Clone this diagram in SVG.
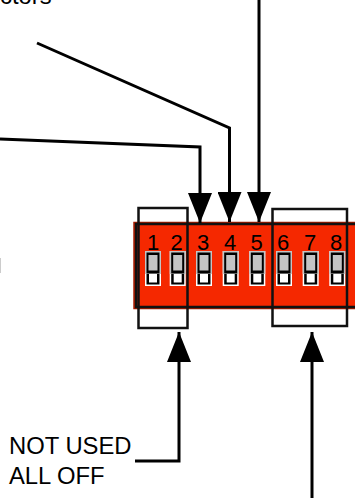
<svg xmlns="http://www.w3.org/2000/svg" width="355" height="502" viewBox="0 0 355 502">
<style>
text{font-family:"Liberation Sans",Arial,sans-serif;fill:#000}
.lbl{font-size:23.8px}
.num{font-size:22px;text-anchor:middle}
.box{fill:none;stroke:#111;stroke-width:2.5}
.conn{fill:none;stroke:#000;stroke-width:3}
</style>
<defs>
<marker id="head" markerUnits="userSpaceOnUse" markerWidth="30" markerHeight="24" refX="30" refY="12" viewBox="0 0 30 24" orient="auto"><path d="M0 0L30 12L0 24Z" fill="#000"/></marker>
<g id="sw">
<rect x="-8" y="251" width="16" height="35" fill="#fff"/>
<rect x="-6.5" y="252.5" width="13" height="32" fill="#000"/>
<rect x="-4" y="273.5" width="8" height="9" fill="#fff"/>
<rect x="-8" y="251" width="16" height="23" fill="#c4c4c4"/>
<rect x="-6.5" y="252.5" width="13" height="21" fill="#000"/>
<rect x="-4.5" y="255" width="9" height="15.5" fill="#c4c4c4"/>
</g>
</defs>
<rect x="0" y="258" width="1" height="15" fill="#ccc"/>
<g id="dip-body">
<rect x="134" y="222.5" width="222" height="86" fill="#f52800" stroke="#a81c00" stroke-width="1.5"/>
<rect x="136" y="224" width="222" height="83" class="box"/>
</g>
<g id="switch-1"><text class="num" x="153" y="249.5">1</text><use href="#sw" x="153"/></g>
<g id="switch-2"><text class="num" x="176.5" y="249.5">2</text><use href="#sw" x="177.7"/></g>
<g id="switch-3"><text class="num" x="203" y="249.5">3</text><use href="#sw" x="204"/></g>
<g id="switch-4"><text class="num" x="230" y="249.5">4</text><use href="#sw" x="230.7"/></g>
<g id="switch-5"><text class="num" x="256.5" y="249.5">5</text><use href="#sw" x="257.3"/></g>
<g id="switch-6"><text class="num" x="283" y="249.5">6</text><use href="#sw" x="284"/></g>
<g id="switch-7"><text class="num" x="310" y="249.5">7</text><use href="#sw" x="310.7"/></g>
<g id="switch-8"><text class="num" x="336" y="249.5">8</text><use href="#sw" x="337.3"/></g>
<g id="group-left"><rect x="138.5" y="208" width="49" height="120" class="box"/></g>
<g id="group-right"><rect x="272.5" y="209" width="74.5" height="117" class="box"/></g>
<g id="connectors">
<polyline class="conn" points="259,0 259,222" marker-end="url(#head)"/>
<polyline class="conn" points="37,43 229.5,128 229.5,222" marker-end="url(#head)"/>
<polyline class="conn" points="0,139 200,147 200,223" marker-end="url(#head)"/>
<polyline class="conn" points="135,461 179,461 179,332" marker-end="url(#head)"/>
<polyline class="conn" points="312,498 312,332" marker-end="url(#head)"/>
</g>
<g id="label-top"><text class="lbl" x="0" y="4">ctors</text></g>
<g id="label-not-used"><text class="lbl" x="9" y="454">NOT USED</text><text class="lbl" x="9" y="484">ALL OFF</text></g>
</svg>
